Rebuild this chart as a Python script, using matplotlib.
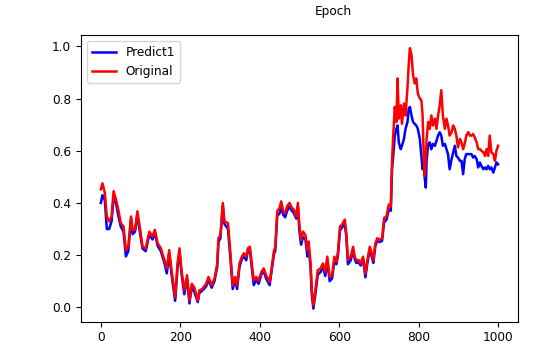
import matplotlib
matplotlib.use('Agg')
import matplotlib.pyplot as plt

epochs = [
    0, 4, 10, 15, 21, 27, 32, 38, 44, 50, 57, 63, 69, 76, 80, 86, 92, 99,
    105, 113, 122, 130, 136, 143, 151, 160, 166, 172, 178, 187, 193, 198,
    203, 210, 217, 223, 229, 235, 244, 248, 256, 265, 271, 279, 286, 293,
    296, 301, 307, 311, 320, 326, 332, 338, 343, 349, 355, 360, 366, 370,
    375, 380, 385, 391, 397, 404, 410, 416, 425, 429, 436, 439, 444, 450,
    454, 459, 464, 469, 475, 481, 486, 492, 496, 500, 504, 509, 515, 520,
    523, 528, 531, 535, 540, 546, 553, 559, 565, 570, 576, 582, 588, 593,
    597, 602, 607, 614, 618, 622, 629, 635, 639, 643, 649, 654, 660, 666,
    671, 677, 681, 686, 691, 696, 702, 708, 713, 719, 725, 730, 733, 736,
    740, 744, 747, 750, 755, 758, 763, 767, 772, 775, 778, 782, 786, 790,
    794, 798, 803, 807, 810, 812, 815, 818, 820, 824, 828, 832, 836, 841,
    845, 849, 853, 857, 861, 866, 870, 874, 878, 883, 887, 891, 895, 899,
    904, 908, 912, 916, 920, 925, 929, 933, 937, 941, 946, 950, 954, 958,
    963, 967, 971, 975, 979, 983, 988, 992, 996, 1000,
]

original = [
    0.452, 0.475, 0.439, 0.348, 0.329, 0.348, 0.445, 0.413, 0.374, 0.323,
    0.310, 0.219, 0.232, 0.348, 0.297, 0.297, 0.368, 0.297, 0.232, 0.226,
    0.290, 0.271, 0.297, 0.245, 0.226, 0.181, 0.149, 0.219, 0.142, 0.039,
    0.168, 0.226, 0.142, 0.065, 0.123, 0.026, 0.090, 0.077, 0.026, 0.065,
    0.071, 0.090, 0.116, 0.084, 0.110, 0.168, 0.265, 0.277, 0.400, 0.329,
    0.323, 0.210, 0.084, 0.116, 0.084, 0.168, 0.194, 0.207, 0.194, 0.226,
    0.232, 0.168, 0.103, 0.116, 0.103, 0.135, 0.149, 0.123, 0.097, 0.142,
    0.219, 0.226, 0.368, 0.381, 0.406, 0.368, 0.361, 0.387, 0.400, 0.381,
    0.374, 0.348, 0.400, 0.310, 0.258, 0.290, 0.277, 0.219, 0.252, 0.168,
    0.065, 0.007, 0.065, 0.142, 0.149, 0.168, 0.135, 0.194, 0.116, 0.123,
    0.194, 0.174, 0.213, 0.310, 0.316, 0.336, 0.284, 0.181, 0.194, 0.232,
    0.194, 0.181, 0.181, 0.168, 0.194, 0.129, 0.181, 0.232, 0.213, 0.181,
    0.245, 0.265, 0.258, 0.265, 0.342, 0.348, 0.394, 0.387, 0.555, 0.658,
    0.768, 0.710, 0.877, 0.723, 0.774, 0.703, 0.781, 0.735, 0.845, 0.929,
    0.993, 0.967, 0.890, 0.858, 0.877, 0.819, 0.800, 0.793, 0.735, 0.619,
    0.503, 0.560, 0.645, 0.710, 0.684, 0.735, 0.697, 0.723, 0.684, 0.735,
    0.774, 0.832, 0.735, 0.684, 0.723, 0.697, 0.658, 0.671, 0.697, 0.684,
    0.658, 0.613, 0.645, 0.632, 0.606, 0.626, 0.658, 0.671, 0.658, 0.658,
    0.664, 0.652, 0.632, 0.606, 0.606, 0.600, 0.594, 0.580, 0.606, 0.580,
    0.658, 0.594, 0.587, 0.561, 0.600, 0.619,
]

predict1 = [
    0.400, 0.430, 0.410, 0.300, 0.300, 0.330, 0.420, 0.400, 0.350, 0.310,
    0.290, 0.195, 0.215, 0.340, 0.280, 0.290, 0.355, 0.280, 0.225, 0.215,
    0.280, 0.260, 0.285, 0.235, 0.215, 0.170, 0.130, 0.205, 0.125, 0.025,
    0.150, 0.215, 0.130, 0.050, 0.110, 0.015, 0.080, 0.060, 0.020, 0.055,
    0.065, 0.080, 0.105, 0.075, 0.100, 0.155, 0.250, 0.265, 0.390, 0.320,
    0.300, 0.190, 0.070, 0.105, 0.070, 0.155, 0.185, 0.195, 0.180, 0.215,
    0.225, 0.150, 0.085, 0.105, 0.090, 0.125, 0.140, 0.110, 0.085, 0.130,
    0.205, 0.215, 0.350, 0.360, 0.385, 0.355, 0.345, 0.370, 0.385, 0.370,
    0.360, 0.340, 0.385, 0.290, 0.240, 0.270, 0.260, 0.195, 0.235, 0.150,
    0.050, -0.005, 0.050, 0.125, 0.135, 0.155, 0.120, 0.180, 0.100, 0.110,
    0.180, 0.165, 0.200, 0.295, 0.305, 0.320, 0.270, 0.165, 0.180, 0.220,
    0.185, 0.170, 0.172, 0.160, 0.185, 0.115, 0.170, 0.220, 0.200, 0.170,
    0.235, 0.255, 0.250, 0.255, 0.325, 0.335, 0.375, 0.370, 0.529, 0.580,
    0.658, 0.684, 0.697, 0.632, 0.606, 0.619, 0.645, 0.684, 0.710, 0.761,
    0.768, 0.735, 0.710, 0.703, 0.697, 0.684, 0.645, 0.580, 0.529, 0.560,
    0.500, 0.459, 0.560, 0.626, 0.632, 0.606, 0.626, 0.619, 0.639, 0.658,
    0.671, 0.658, 0.619, 0.626, 0.606, 0.587, 0.529, 0.568, 0.594, 0.619,
    0.580, 0.574, 0.561, 0.561, 0.510, 0.568, 0.587, 0.587, 0.587, 0.587,
    0.574, 0.580, 0.568, 0.536, 0.555, 0.542, 0.529, 0.536, 0.529, 0.542,
    0.529, 0.536, 0.516, 0.536, 0.555, 0.548,
]

plt.rcParams['font.size'] = 8.7

fig = plt.figure(figsize=(5.51, 3.55), dpi=100)
ax = fig.add_axes([0.147, 0.094, 0.793, 0.807])
ax.plot(epochs, predict1, color='b', linewidth=1.8, label='Predict1')
ax.plot(epochs, original, color='r', linewidth=1.8, label='Original')
ax.legend(loc='upper left')
fig.text(333 / 551, 1 - 12 / 355, 'Epoch', ha='center', va='center')

fig.savefig('out.png', dpi=100)
